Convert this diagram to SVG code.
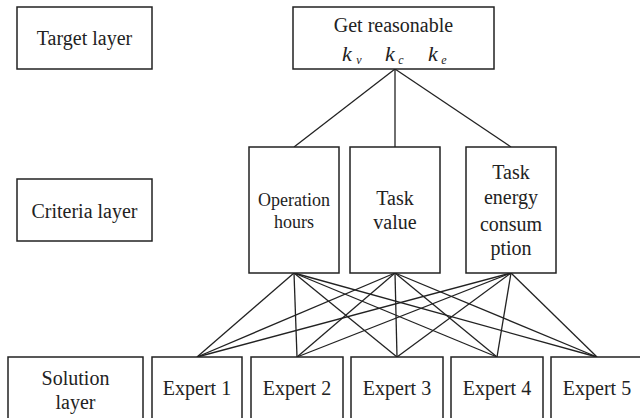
<svg xmlns="http://www.w3.org/2000/svg" width="640" height="418" viewBox="0 0 640 418">
<style>
rect{fill:#fff;stroke:#222;stroke-width:1.5}
text{fill:#222;text-anchor:middle;font-family:"Liberation Serif","DejaVu Serif","Noto Serif",Georgia,serif;font-size:20px}
.sm{font-size:18px}
.it{font-style:italic;font-size:22px}
.sub{font-style:italic;font-size:12px}
#connectors line{stroke:#222;stroke-width:1.3}
</style>
<rect x="0" y="0" width="640" height="418" style="stroke:none"/>
<g id="connectors">
<line x1="395" y1="69" x2="294" y2="147"/>
<line x1="395" y1="69" x2="395" y2="147"/>
<line x1="395" y1="69" x2="511" y2="147"/>
<line x1="294" y1="273" x2="197" y2="357"/>
<line x1="294" y1="273" x2="297" y2="357"/>
<line x1="294" y1="273" x2="397" y2="357"/>
<line x1="294" y1="273" x2="497" y2="357"/>
<line x1="294" y1="273" x2="597" y2="357"/>
<line x1="395" y1="273" x2="197" y2="357"/>
<line x1="395" y1="273" x2="297" y2="357"/>
<line x1="395" y1="273" x2="397" y2="357"/>
<line x1="395" y1="273" x2="497" y2="357"/>
<line x1="395" y1="273" x2="597" y2="357"/>
<line x1="511" y1="273" x2="197" y2="357"/>
<line x1="511" y1="273" x2="297" y2="357"/>
<line x1="511" y1="273" x2="397" y2="357"/>
<line x1="511" y1="273" x2="497" y2="357"/>
<line x1="511" y1="273" x2="597" y2="357"/>
</g>
<g id="target-layer"><rect x="17" y="7" width="135" height="62"/><text x="84.5" y="45" font-family="DejaVu Serif">Target layer</text></g>
<g id="goal"><rect x="293" y="7" width="201" height="62"/><text x="393.5" y="32">Get reasonable</text>
<text class="it" x="347" y="61">k</text><text class="sub" x="359" y="64">v</text>
<text class="it" x="390" y="61">k</text><text class="sub" x="401" y="64">c</text>
<text class="it" x="433" y="61">k</text><text class="sub" x="444" y="64">e</text></g>
<g id="criteria-layer"><rect x="17" y="179" width="135" height="62"/><text x="84.5" y="218">Criteria layer</text></g>
<g id="operation-hours"><rect x="249" y="147" width="90" height="126"/><text class="sm" x="294" y="206">Operation</text><text class="sm" x="294" y="228">hours</text></g>
<g id="task-value"><rect x="350" y="147" width="90" height="126"/><text x="395" y="205">Task</text><text x="395" y="229">value</text></g>
<g id="task-energy"><rect x="466" y="147" width="90" height="126"/><text x="511" y="179">Task</text><text x="511" y="204">energy</text><text x="511" y="231">consum</text><text x="511" y="255">ption</text></g>
<g id="solution-layer"><rect x="8" y="357" width="135" height="70"/><text x="75.5" y="385">Solution</text><text x="75.5" y="409">layer</text></g>
<g id="expert-1"><rect x="152" y="357" width="90" height="70"/><text x="197" y="395">Expert 1</text></g>
<g id="expert-2"><rect x="251" y="357" width="92" height="70"/><text x="297" y="395">Expert 2</text></g>
<g id="expert-3"><rect x="351" y="357" width="92" height="70"/><text x="397" y="395">Expert 3</text></g>
<g id="expert-4"><rect x="451" y="357" width="92" height="70"/><text x="497" y="395">Expert 4</text></g>
<g id="expert-5"><rect x="551" y="357" width="92" height="70"/><text x="597" y="395">Expert 5</text></g>
</svg>
